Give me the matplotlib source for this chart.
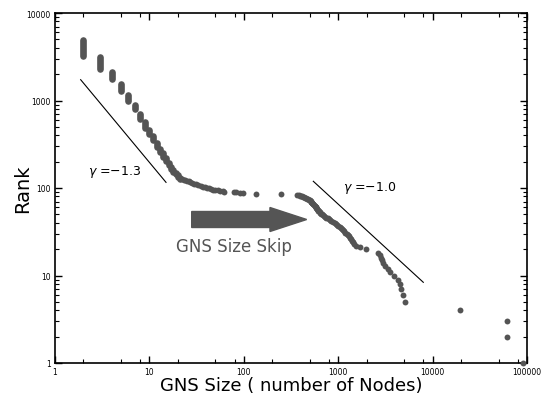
import numpy as np
import matplotlib
matplotlib.use("Agg")
import matplotlib.pyplot as plt
from matplotlib.ticker import LogLocator, FixedLocator, FixedFormatter, NullFormatter
from matplotlib.patches import FancyArrow

# small GNS sizes: many networks share one size -> vertical strips of ranks
strip_size = [2, 3, 4, 5, 6, 7, 8, 9, 10, 11, 12, 13, 14, 15, 16, 17, 18, 19, 20, 21]
strip_top = [4900, 3140, 2120, 1560, 1160, 890, 705, 568, 460, 393, 327, 279, 248, 220, 193, 176, 161, 148, 139, 131]
strip_bot = [3230, 2290, 1760, 1280, 990, 800, 615, 489, 414, 354, 294, 258, 229, 204, 181, 165, 152, 143, 135, 128]

# flat part (sizes skipped)
flat_size = [22, 23, 24, 25, 26, 27, 28, 30, 31, 33, 35, 37, 39, 41, 43, 45, 47, 50, 53, 56, 60, 62, 78, 82, 92, 98, 135, 250]
flat_rank = [126, 124, 122, 121, 119, 117, 115, 112, 110, 108, 106, 104, 102, 101, 99, 98, 96, 95, 94, 93, 92, 91, 90, 89, 88, 87, 86, 85]

# large GNS sizes (rank 84 .. 1)
big_size = [370, 385, 395, 405, 415, 425, 435, 445, 456, 468, 479, 491, 503, 509, 515, 521, 528, 534,
            541, 547, 554, 561, 568, 575, 582, 589, 596, 603, 611, 618, 626, 637, 649, 661, 673, 690,
            707, 724, 751, 780, 799, 819, 849, 881, 914, 948, 971, 1007, 1045, 1071, 1097, 1124, 1152,
            1181, 1225, 1270, 1301, 1334, 1383, 1400, 1435, 1470, 1544, 1703, 1969, 2660, 2740, 2810,
            2880, 2980, 3170, 3370, 3580, 3900, 4350, 4520, 4590, 4820, 5100, 19500, 62000, 62000, 90000]
big_rank = [84, 83, 82, 81, 80, 79, 78, 77, 76, 75, 74, 73, 72, 71, 70, 69, 68, 67,
            66, 65, 64, 63, 62, 61, 60, 59, 58, 57, 56, 55, 54, 53, 52, 51, 50, 49,
            48, 47, 46, 45, 44, 43, 42, 41, 40, 39, 38, 37, 36, 35, 34, 33, 32,
            31, 30, 29, 28, 27, 26, 25, 24, 23, 22, 21, 20, 18, 17, 16,
            15, 14, 13, 12, 11, 10, 9, 8, 7, 6, 5, 4, 3, 2, 1]

# power law guide lines
fit1_x = [1.87, 15.0]
fit1_y = [1729, 116]
fit2_x = [545, 7970]
fit2_y = [119.3, 8.36]

xtick_pos = [1, 10, 100, 1000, 10000, 100000]
xtick_lab = ["1", "10", "100", "1000", "10000", "100000"]
ytick_pos = [1, 10, 100, 1000, 10000]
ytick_lab = ["1", "10", "100", "1000", "10000"]

dot = "#545454"

fig = plt.figure(figsize=(5.51, 4.02), dpi=100)
ax = fig.add_axes([55/551, 38/402, 472/551, 350/402])
ax.set_xscale("log")
ax.set_yscale("log")
ax.set_xlim(1, 1e5)
ax.set_ylim(1, 1e4)

lc = ax.vlines(strip_size, strip_bot, strip_top, colors=dot, linewidth=4.8)
lc.set_capstyle("round")
ax.scatter(flat_size, flat_rank, s=18, color=dot, linewidths=0, zorder=3)
ax.scatter(big_size, big_rank, s=18, color=dot, linewidths=0, zorder=3, clip_on=False)

ax.plot(fit1_x, fit1_y, color="black", lw=0.8)
ax.plot(fit2_x, fit2_y, color="black", lw=0.8)
ax.text(2.24, 156, r"$\gamma$ =$-$1.3", fontsize=9, va="center", ha="left")
ax.text(1125, 103, r"$\gamma$ =$-$1.0", fontsize=9, va="center", ha="left")

arr = FancyArrow(0.2896, 0.41, 0.2436, 0, width=0.0457, head_width=0.0686,
                 head_length=0.0778, length_includes_head=True, color="#555555",
                 transform=ax.transAxes)
ax.add_patch(arr)
ax.text(0.379, 0.335, "GNS Size Skip", transform=ax.transAxes, fontsize=12,
        color="#555555", ha="center", va="center")

ax.xaxis.set_major_locator(FixedLocator(xtick_pos))
ax.xaxis.set_major_formatter(FixedFormatter(xtick_lab))
ax.xaxis.set_minor_locator(LogLocator(base=10, subs=[2, 5, 8], numticks=20))
ax.xaxis.set_minor_formatter(NullFormatter())
ax.yaxis.set_major_locator(FixedLocator(ytick_pos))
ax.yaxis.set_major_formatter(FixedFormatter(ytick_lab))
ax.yaxis.set_minor_locator(LogLocator(base=10, subs=np.arange(2, 10), numticks=20))
ax.yaxis.set_minor_formatter(NullFormatter())

ax.tick_params(which="both", direction="in", top=True, right=True, labelsize=5.5, pad=3)
ax.tick_params(which="major", length=5, width=1)
ax.tick_params(which="minor", length=3, width=0.8)
for s in ax.spines.values():
    s.set_linewidth(1.2)

ax.set_xlabel("GNS Size ( number of Nodes)", fontsize=13, labelpad=0)
ax.set_ylabel("Rank", fontsize=14, va="center")
ax.yaxis.set_label_coords(-0.068, 0.5)

fig.savefig("out.png", dpi=100)
